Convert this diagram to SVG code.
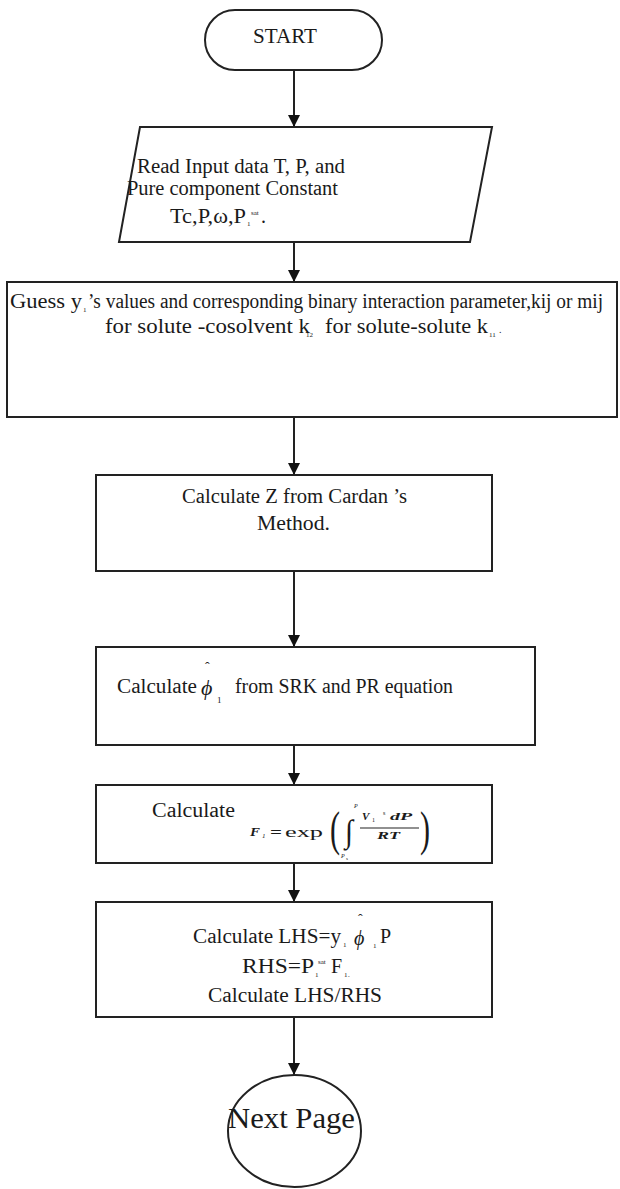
<svg xmlns="http://www.w3.org/2000/svg" width="620" height="1189" viewBox="0 0 620 1189">
<defs>
<style>
.shape{fill:#fff;stroke:#222;stroke-width:2}
.conn{stroke:#222;stroke-width:2;fill:none}
.t{font-family:"Liberation Serif","Times New Roman",serif;font-size:20px;fill:#1a1a1a}
.i{font-family:"Liberation Serif","Times New Roman",serif;font-style:italic;fill:#1a1a1a}
.s{font-family:"Liberation Serif","Times New Roman",serif;fill:#1a1a1a}
</style>
<marker id="arr" viewBox="0 0 12 12" refX="12" refY="6" markerWidth="12" markerHeight="12" markerUnits="userSpaceOnUse" orient="auto">
<path d="M0,0 L12,6 L0,12 z" fill="#111"/>
</marker>
</defs>
<rect width="620" height="1189" fill="#fff"/>

<g id="connectors">
<line class="conn" x1="294" y1="70" x2="294" y2="127" marker-end="url(#arr)"/>
<line class="conn" x1="294" y1="242" x2="294" y2="282" marker-end="url(#arr)"/>
<line class="conn" x1="294" y1="417" x2="294" y2="475" marker-end="url(#arr)"/>
<line class="conn" x1="294" y1="571" x2="294" y2="647" marker-end="url(#arr)"/>
<line class="conn" x1="294" y1="745" x2="294" y2="785" marker-end="url(#arr)"/>
<line class="conn" x1="294" y1="863" x2="294" y2="902" marker-end="url(#arr)"/>
<line class="conn" x1="294" y1="1017" x2="294" y2="1075" marker-end="url(#arr)"/>
</g>

<g id="start">
<rect class="shape" x="205" y="10" width="177" height="60" rx="30" ry="30"/>
<text class="t" x="253" y="43" textLength="64" lengthAdjust="spacingAndGlyphs">START</text>
</g>

<g id="input">
<polygon class="shape" points="140,127 492,127 470,242 119,242"/>
<text class="t" x="137" y="173" textLength="208" lengthAdjust="spacingAndGlyphs">Read Input data T, P, and</text>
<text class="t" x="127" y="195" textLength="211" lengthAdjust="spacingAndGlyphs">Pure component Constant</text>
<text class="t" x="170" y="223" textLength="76" lengthAdjust="spacingAndGlyphs">Tc,P,ω,P</text>
<text class="s" x="247" y="226" font-size="7">1</text>
<text class="s" x="251" y="215" font-size="7">sat</text>
<text class="t" x="261" y="223">.</text>
</g>

<g id="guess">
<rect class="shape" x="7" y="282" width="610" height="135"/>
<text class="t" x="10" y="308" textLength="72" lengthAdjust="spacingAndGlyphs">Guess y</text>
<text class="s" x="83" y="312" font-size="7">1</text>
<text class="t" x="88" y="308" textLength="515" lengthAdjust="spacingAndGlyphs">’s values and corresponding binary interaction parameter,kij or mij</text>
<text class="t" x="105" y="333" textLength="205" lengthAdjust="spacingAndGlyphs">for solute -cosolvent k</text>
<text class="s" x="306" y="337" font-size="7">12</text>
<text class="t" x="325" y="333" textLength="163" lengthAdjust="spacingAndGlyphs">for solute-solute k</text>
<text class="s" x="489" y="337" font-size="7">11</text>
<text class="s" x="499" y="333" font-size="10">.</text>
</g>

<g id="cardan">
<rect class="shape" x="96" y="475" width="396" height="96"/>
<text class="t" x="182" y="503" textLength="225" lengthAdjust="spacingAndGlyphs">Calculate Z from Cardan ’s</text>
<text class="t" x="257" y="530" textLength="73" lengthAdjust="spacingAndGlyphs">Method.</text>
</g>

<g id="phi">
<rect class="shape" x="96" y="647" width="439" height="98"/>
<text class="t" x="117" y="693" textLength="80" lengthAdjust="spacingAndGlyphs">Calculate</text>
<text class="s" x="205" y="672" font-size="14">ˆ</text>
<text class="i" x="201" y="695" font-size="22">ϕ</text>
<text class="s" x="217" y="703" font-size="9">1</text>
<text class="t" x="235" y="693" textLength="218" lengthAdjust="spacingAndGlyphs">from SRK and PR equation</text>
</g>

<g id="fugacity">
<rect class="shape" x="96" y="785" width="396" height="78"/>
<text class="t" x="152" y="817" textLength="83" lengthAdjust="spacingAndGlyphs">Calculate</text>
<text class="i" x="250" y="836" font-size="12" font-weight="bold" textLength="10" lengthAdjust="spacingAndGlyphs">F</text>
<text class="i" x="262" y="838" font-size="7">1</text>
<text class="s" x="270" y="837" font-size="14" font-weight="bold" textLength="12" lengthAdjust="spacingAndGlyphs">=</text>
<text class="s" x="285" y="837" font-size="15" textLength="38" lengthAdjust="spacingAndGlyphs">exp</text>
<text class="s" x="330" y="845" font-size="48" textLength="10" lengthAdjust="spacingAndGlyphs">(</text>
<text class="s" x="420" y="845" font-size="48" textLength="10" lengthAdjust="spacingAndGlyphs">)</text>
<text class="s" x="345" y="842" font-size="32" textLength="8" lengthAdjust="spacingAndGlyphs">∫</text>
<text class="i" x="354" y="808" font-size="6">P</text>
<text class="i" x="341" y="858" font-size="6">P</text>
<text class="s" x="346" y="860" font-size="5">s</text>
<text class="i" x="362" y="820" font-size="11" font-weight="bold">V</text>
<text class="s" x="372" y="822" font-size="6">1</text>
<text class="s" x="383" y="815" font-size="6">s</text>
<text class="i" x="390" y="820" font-size="11" font-weight="bold" textLength="22" lengthAdjust="spacingAndGlyphs">dP</text>
<line x1="360" y1="828" x2="419" y2="828" stroke="#222" stroke-width="1.2"/>
<text class="i" x="377" y="839" font-size="11" font-weight="bold" textLength="23" lengthAdjust="spacingAndGlyphs">RT</text>
</g>

<g id="ratio">
<rect class="shape" x="96" y="902" width="396" height="115"/>
<text class="t" x="193" y="943" textLength="148" lengthAdjust="spacingAndGlyphs">Calculate LHS=y</text>
<text class="s" x="343" y="947" font-size="7">1</text>
<text class="s" x="358" y="924" font-size="14">ˆ</text>
<text class="i" x="354" y="945" font-size="20">ϕ</text>
<text class="s" x="373" y="948" font-size="7">1</text>
<text class="t" x="380" y="943">P</text>
<text class="t" x="242" y="973" textLength="72" lengthAdjust="spacingAndGlyphs">RHS=P</text>
<text class="s" x="315" y="977" font-size="7">1</text>
<text class="s" x="318" y="964" font-size="7">sat</text>
<text class="t" x="331" y="973">F</text>
<text class="s" x="344" y="977" font-size="7">1</text>
<text class="s" x="348" y="977" font-size="7">.</text>
<text class="t" x="208" y="1002" textLength="174" lengthAdjust="spacingAndGlyphs">Calculate LHS/RHS</text>
</g>

<g id="next">
<ellipse class="shape" cx="294.5" cy="1131" rx="66.5" ry="56"/>
<text class="s" x="228" y="1128" font-size="30" textLength="127" lengthAdjust="spacingAndGlyphs">Next Page</text>
</g>
</svg>
